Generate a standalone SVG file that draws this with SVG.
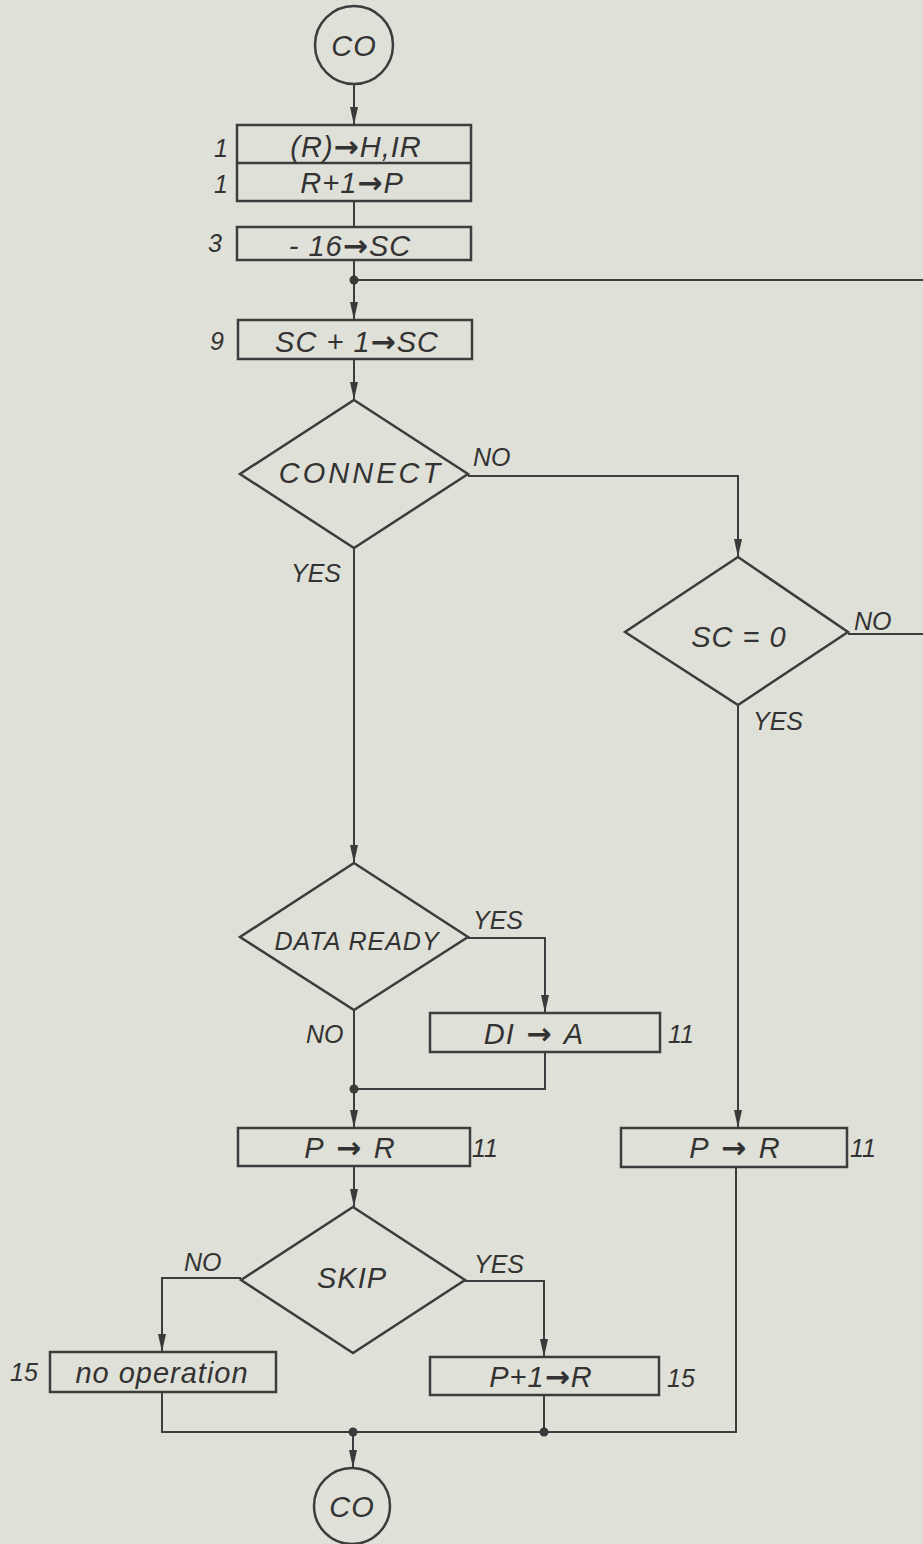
<svg xmlns="http://www.w3.org/2000/svg" width="923" height="1544" viewBox="0 0 923 1544">
<defs>
<marker id="ah" viewBox="0 0 18 10" refX="18" refY="5" markerWidth="18" markerHeight="10" markerUnits="userSpaceOnUse" orient="auto">
<path d="M0,1 L18,5 L0,9 Z" fill="#3a3a3a"/>
</marker>
<style>
.s{fill:none;stroke:#3c3c3c;stroke-width:2.5}
.c{fill:none;stroke:#3c3c3c;stroke-width:2}
.t{font-family:"Liberation Sans",Arial,sans-serif;font-style:italic;font-size:29px;fill:#333;text-anchor:middle;letter-spacing:1px}
.l{font-family:"Liberation Sans",Arial,sans-serif;font-style:italic;font-size:25px;fill:#333}
.ar{font-family:"DejaVu Sans",sans-serif;font-style:normal;font-size:30px;font-weight:bold}
.d{fill:#3a3a3a}
</style>
</defs>
<rect width="923" height="1544" fill="#dfe0d7"/>
<g id="connectors">
<path class="c" d="M354,84 V125" marker-end="url(#ah)"/>
<path class="c" d="M354,201 V227"/>
<path class="c" d="M354,260 V320" marker-end="url(#ah)"/>
<path class="c" d="M354,280 H923"/>
<path class="c" d="M354,359 V400" marker-end="url(#ah)"/>
<path class="c" d="M468,476 H738 V557" marker-end="url(#ah)"/>
<path class="c" d="M848,634 H923"/>
<path class="c" d="M354,548 V863" marker-end="url(#ah)"/>
<path class="c" d="M468,938 H545 V1013" marker-end="url(#ah)"/>
<path class="c" d="M545,1052 V1089 H354"/>
<path class="c" d="M354,1010 V1128" marker-end="url(#ah)"/>
<path class="c" d="M738,705 V1128" marker-end="url(#ah)"/>
<path class="c" d="M354,1166 V1207" marker-end="url(#ah)"/>
<path class="c" d="M241,1278 H162 V1352" marker-end="url(#ah)"/>
<path class="c" d="M465,1281 H544 V1357" marker-end="url(#ah)"/>
<path class="c" d="M162,1392 V1432 H736 V1167"/>
<path class="c" d="M544,1395 V1432"/>
<path class="c" d="M353,1432 V1468" marker-end="url(#ah)"/>
<circle class="d" cx="354" cy="280" r="4.5"/>
<circle class="d" cx="354" cy="1089" r="4.5"/>
<circle class="d" cx="353" cy="1432" r="4.5"/>
<circle class="d" cx="544" cy="1432" r="4.5"/>
</g>
<g id="co-top">
<circle class="s" cx="354" cy="45" r="39"/>
<text class="t" x="354" y="56">CO</text>
</g>
<g id="box1">
<rect class="s" x="237" y="125" width="234" height="76"/>
<line class="s" x1="237" y1="163" x2="471" y2="163"/>
<text class="t" x="356" y="157">(R)<tspan class="ar">→</tspan>H,IR</text>
<text class="t" x="352" y="193">R+1<tspan class="ar">→</tspan>P</text>
<text class="l" x="214" y="157">1</text>
<text class="l" x="214" y="193">1</text>
</g>
<g id="box3">
<rect class="s" x="237" y="227" width="234" height="33"/>
<text class="t" x="350" y="256">- 16<tspan class="ar">→</tspan>SC</text>
<text class="l" x="208" y="252">3</text>
</g>
<g id="box9">
<rect class="s" x="238" y="320" width="234" height="39"/>
<text class="t" x="357" y="352">SC + 1<tspan class="ar">→</tspan>SC</text>
<text class="l" x="210" y="350">9</text>
</g>
<g id="connect">
<polygon class="s" points="354,400 468,474 354,548 240,474"/>
<text class="t" x="361" y="483" style="letter-spacing:3px">CONNECT</text>
<text class="l" x="473" y="466">NO</text>
<text class="l" x="291" y="582">YES</text>
</g>
<g id="sc0">
<polygon class="s" points="738,557 848,632 738,705 625,632"/>
<text class="t" x="739" y="647">SC = 0</text>
<text class="l" x="854" y="630">NO</text>
<text class="l" x="753" y="730">YES</text>
</g>
<g id="dataready">
<polygon class="s" points="354,863 468,937 354,1010 240,937"/>
<text class="t" x="357" y="950" style="font-size:25px">DATA READY</text>
<text class="l" x="473" y="929">YES</text>
<text class="l" x="306" y="1043">NO</text>
</g>
<g id="dia">
<rect class="s" x="430" y="1013" width="230" height="39"/>
<text class="t" x="534" y="1044">DI<tspan class="ar"> → </tspan>A</text>
<text class="l" x="668" y="1043">11</text>
</g>
<g id="pr-left">
<rect class="s" x="238" y="1128" width="232" height="38"/>
<text class="t" x="350" y="1158">P<tspan class="ar"> → </tspan>R</text>
<text class="l" x="472" y="1157">11</text>
</g>
<g id="pr-right">
<rect class="s" x="621" y="1128" width="226" height="39"/>
<text class="t" x="735" y="1158">P<tspan class="ar"> → </tspan>R</text>
<text class="l" x="850" y="1157">11</text>
</g>
<g id="skip">
<polygon class="s" points="353,1207 465,1280 353,1353 241,1280"/>
<text class="t" x="352" y="1288">SKIP</text>
<text class="l" x="184" y="1271">NO</text>
<text class="l" x="474" y="1273">YES</text>
</g>
<g id="noop">
<rect class="s" x="50" y="1352" width="226" height="40"/>
<text class="t" x="162" y="1383">no operation</text>
<text class="l" x="10" y="1381">15</text>
</g>
<g id="p1r">
<rect class="s" x="430" y="1357" width="229" height="38"/>
<text class="t" x="541" y="1387">P+1<tspan class="ar">→</tspan>R</text>
<text class="l" x="667" y="1387">15</text>
</g>
<g id="co-bottom">
<circle class="s" cx="352" cy="1506" r="38"/>
<text class="t" x="352" y="1517">CO</text>
</g>
</svg>
